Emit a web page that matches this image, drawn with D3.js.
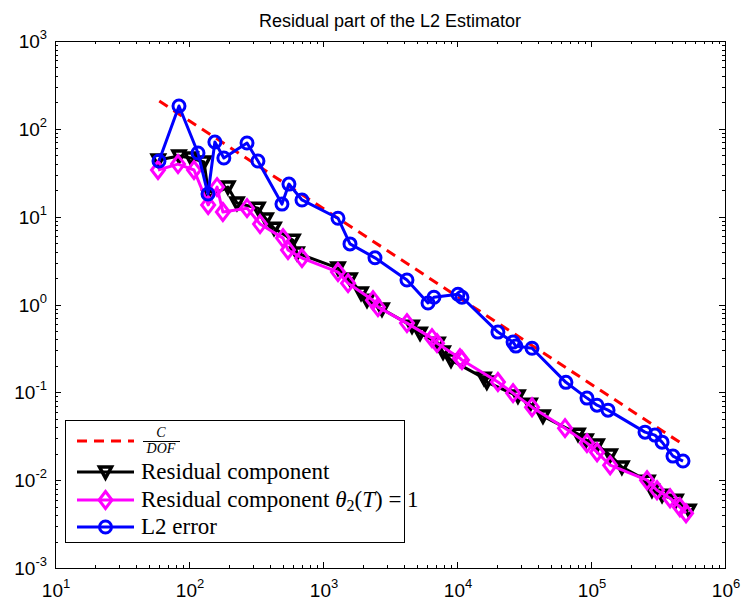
<!DOCTYPE html>
<html><head><meta charset="utf-8">
<script src="https://cdn.jsdelivr.net/npm/d3@7"></script>
<style>body{margin:0;background:#fff}</style>
</head><body><div class="container"></div>
<script>
// C/DOF reference line (end points)
var refDof = [60, 500000];
var refVal = [207, 0.0248];

// Residual component
var resDof = [59, 84.2, 103.5, 129.4, 141, 195, 228, 327, 376, 431, 597, 640, 1294, 1590, 1923, 2130, 2756, 4617, 5300, 7211, 7870, 9020, 15900, 16700, 28500, 35100, 43800, 80000, 91800, 111000, 139000, 170000, 266000, 285000, 339000, 431000, 538000];
var resVal = [44.2, 49.0, 46.5, 41.9, 17.1, 21.7, 14.3, 12.5, 9.4, 7.4, 5.4, 3.85, 2.60, 1.95, 1.35, 1.12, 0.887, 0.567, 0.472, 0.363, 0.287, 0.233, 0.145, 0.131, 0.0906, 0.0733, 0.0536, 0.0334, 0.0286, 0.0251, 0.0193, 0.0141, 0.00975, 0.00769, 0.00675, 0.00592, 0.00455];

// Residual component theta2(T)=1
var thDof = [58.7, 82.8, 109, 139, 162, 179, 271, 339, 503, 548, 697, 1294, 1538, 2361, 2572, 4233, 6506, 7096, 10520, 10890, 20200, 26200, 36300, 64000, 93300, 111000, 139000, 262000, 311000, 389000, 461000, 512000];
var thVal = [34.0, 39.7, 34.0, 13.6, 21.7, 11.3, 12.5, 8.24, 5.70, 4.17, 3.38, 2.34, 1.75, 1.12, 0.933, 0.614, 0.414, 0.363, 0.245, 0.233, 0.131, 0.098, 0.0678, 0.0391, 0.0264, 0.0208, 0.0148, 0.0100, 0.00769, 0.00624, 0.00492, 0.00421];

// L2 error
var l2Dof = [59.7, 84.2, 116.7, 138.6, 156, 182, 271, 327, 494, 557, 697, 1294, 1590, 2443, 4233, 6078, 6730, 10170, 10890, 20200, 26200, 27500, 36300, 65000, 93300, 110900, 134000, 253000, 300000, 339000, 409000, 486000];
var l2Val = [43, 182, 53, 18.1, 70.7, 46.5, 68.9, 43, 13.9, 23.5, 15.5, 9.6, 4.9, 3.4, 1.90, 1.04, 1.21, 1.31, 1.21, 0.485, 0.373, 0.336, 0.318, 0.130, 0.086, 0.0714, 0.0627, 0.0352, 0.0326, 0.0271, 0.0188, 0.0165];

var xExp = [1, 2, 3, 4, 5, 6];
var yExp = [-3, -2, -1, 0, 1, 2, 3];

var W = 744, H = 606;
var L = 55, R = 725, T = 41, B = 568;

var svg = d3.select(".container").append("svg")
	.attr("width", W).attr("height", H)
	.style("font-family", "'Liberation Sans', Arial, sans-serif");

var x = d3.scaleLog().domain([10, 1e6]).range([L, R]);
var y = d3.scaleLog().domain([1e-3, 1e3]).range([B, T]);

// ticks (inward, all four sides)
var minorX = [], minorY = [];
for (var e = 1; e < 6; e++) for (var m = 2; m < 10; m++) minorX.push(m * Math.pow(10, e));
for (var e = -3; e < 3; e++) for (var m = 2; m < 10; m++) minorY.push(m * Math.pow(10, e));

var tk = svg.append("g").attr("stroke", "#000").attr("stroke-width", 1);
function xTick(v, len) {
	var px = Math.round(x(v)) + 0.5;
	tk.append("line").attr("x1", px).attr("x2", px).attr("y1", B).attr("y2", B - len);
	tk.append("line").attr("x1", px).attr("x2", px).attr("y1", T).attr("y2", T + len);
}
function yTick(v, len) {
	var py = Math.round(y(v)) + 0.5;
	tk.append("line").attr("y1", py).attr("y2", py).attr("x1", L).attr("x2", L + len);
	tk.append("line").attr("y1", py).attr("y2", py).attr("x1", R).attr("x2", R - len);
}
xExp.forEach(function(e) { xTick(Math.pow(10, e), 6); });
minorX.forEach(function(v) { xTick(v, 3); });
yExp.forEach(function(e) { yTick(Math.pow(10, e), 6); });
minorY.forEach(function(v) { yTick(v, 3); });

// tick labels
xExp.forEach(function(e) {
	var t = svg.append("text").attr("x", x(Math.pow(10, e)) + 1).attr("y", B + 29)
		.attr("text-anchor", "middle").attr("font-size", 19);
	t.append("tspan").text("10");
	t.append("tspan").attr("dy", -9).attr("font-size", 13).text(e);
});
yExp.forEach(function(e) {
	var t = svg.append("text").attr("x", 47).attr("y", y(Math.pow(10, e)) + 7)
		.attr("text-anchor", "end").attr("font-size", 19);
	t.append("tspan").text("10");
	t.append("tspan").attr("dy", -9).attr("font-size", 13).text(e);
});

// title
svg.append("text").attr("x", (L + R) / 2).attr("y", 27)
	.attr("text-anchor", "middle").attr("font-size", 18)
	.text("Residual part of the L2 Estimator");

var line = d3.line().x(function(d) { return x(d[0]); }).y(function(d) { return y(d[1]); });
function pairs(a, b) { return a.map(function(v, i) { return [v, b[i]]; }); }

var plot = svg.append("g");

// red dashed C/DOF
plot.append("path").datum(pairs(refDof, refVal)).attr("d", line)
	.attr("fill", "none").attr("stroke", "#ff0000").attr("stroke-width", 3)
	.attr("stroke-dasharray", "10,7");

var triPath = "M-6,-5L6,-5L0,6Z";
var diaPath = "M0,-8.5L6.5,0L0,8.5L-6.5,0Z";

function series(dof, val, color, marker) {
	var data = pairs(dof, val);
	plot.append("path").datum(data).attr("d", line)
		.attr("fill", "none").attr("stroke", color).attr("stroke-width", 3)
		.attr("stroke-linejoin", "round");
	var g = plot.append("g");
	data.forEach(function(d) { drawMarker(g, x(d[0]), y(d[1]), color, marker); });
}
function drawMarker(g, px, py, color, marker) {
	if (marker == "circle") {
		g.append("circle").attr("cx", px).attr("cy", py).attr("r", 6)
			.attr("fill", "none").attr("stroke", color).attr("stroke-width", 3);
	} else if (marker == "tri") {
		g.append("path").attr("d", triPath)
			.attr("transform", "translate(" + px + "," + py + ")")
			.attr("fill", "none").attr("stroke", color).attr("stroke-width", 3.5);
	} else {
		g.append("path").attr("d", diaPath)
			.attr("transform", "translate(" + px + "," + py + ")")
			.attr("fill", "none").attr("stroke", color).attr("stroke-width", 3);
	}
}

series(resDof, resVal, "#000000", "tri");
series(thDof, thVal, "#ff00ff", "dia");
series(l2Dof, l2Val, "#0000ff", "circle");

// axes box
svg.append("rect").attr("x", L + 0.5).attr("y", T + 0.5).attr("width", R - L).attr("height", B - T)
	.attr("fill", "none").attr("stroke", "#000").attr("stroke-width", 1);

// legend
var lg = svg.append("g").style("font-family", "'Liberation Serif', 'Times New Roman', serif");
lg.append("rect").attr("x", 65.5).attr("y", 420.5).attr("width", 339).attr("height", 122)
	.attr("fill", "#fff").attr("stroke", "#000").attr("stroke-width", 1);

var rows = [441, 472, 500, 527];
lg.append("line").attr("x1", 77).attr("x2", 134).attr("y1", rows[0]).attr("y2", rows[0])
	.attr("stroke", "#ff0000").attr("stroke-width", 3).attr("stroke-dasharray", "10,7");
var legItems = [["#000000", "tri"], ["#ff00ff", "dia"], ["#0000ff", "circle"]];
legItems.forEach(function(it, i) {
	var ry = rows[i + 1];
	lg.append("line").attr("x1", 77).attr("x2", 134).attr("y1", ry).attr("y2", ry)
		.attr("stroke", it[0]).attr("stroke-width", 3);
	drawMarker(lg, 105.5, ry, it[0], it[1]);
});

// fraction C / DOF
lg.append("text").attr("x", 161).attr("y", 437).attr("text-anchor", "middle")
	.attr("font-size", 14).attr("font-style", "italic").text("C");
lg.append("line").attr("x1", 143).attr("x2", 180).attr("y1", 441.5).attr("y2", 441.5)
	.attr("stroke", "#000").attr("stroke-width", 1);
lg.append("text").attr("x", 161).attr("y", 453).attr("text-anchor", "middle")
	.attr("font-size", 14).attr("font-style", "italic").text("DOF");

lg.append("text").attr("x", 141).attr("y", 479).attr("font-size", 23).text("Residual component");
var t3 = lg.append("text").attr("x", 141).attr("y", 507).attr("font-size", 23);
t3.append("tspan").text("Residual component ");
t3.append("tspan").attr("font-style", "italic").text("θ");
t3.append("tspan").attr("font-size", 16).attr("dy", 4).text("2");
t3.append("tspan").attr("dy", -4).text("(");
t3.append("tspan").attr("font-style", "italic").text("T");
t3.append("tspan").text(") = 1");
lg.append("text").attr("x", 141).attr("y", 534).attr("font-size", 23).text("L2 error");
</script>
</body></html>
